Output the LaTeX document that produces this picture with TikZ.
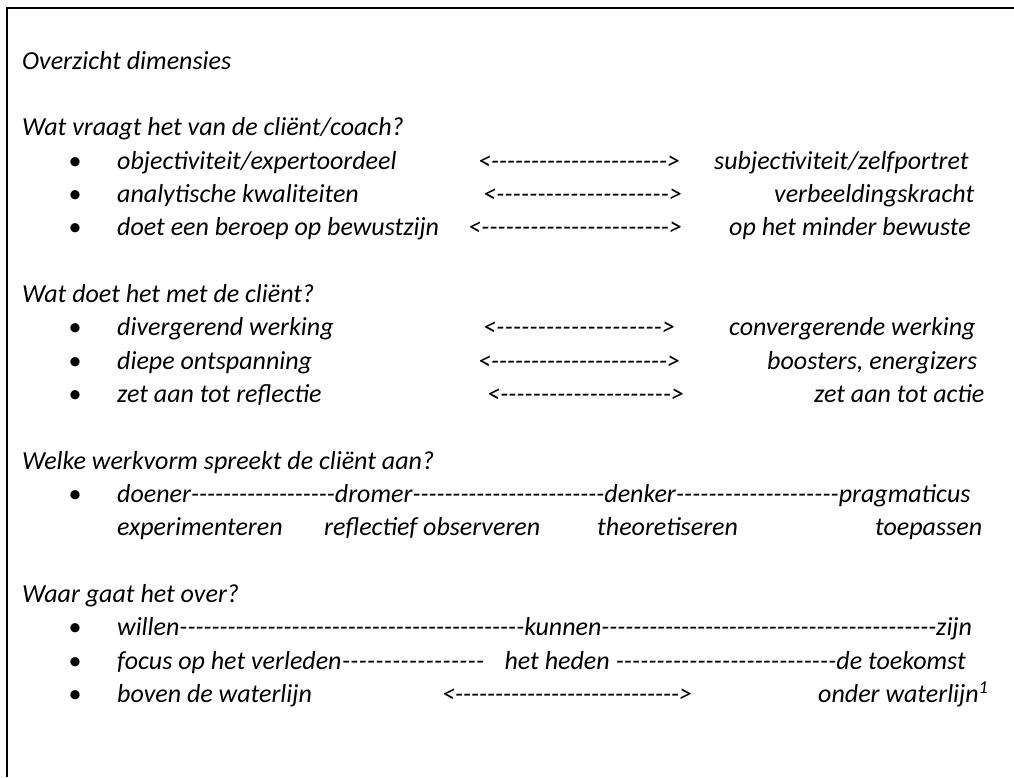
\documentclass[tikz,border=0pt]{standalone}
\usepackage{fontspec}
\setmainfont{Carlito}

% a run of hyphens of a given width, and a two-way text arrow
\newcommand{\dashrun}[1]{\hbox to #1{\xleaders\hbox{-}\hfill}}
\newcommand{\twoway}[1]{\hbox to #1{<\xleaders\hbox{-}\hfill>}}

\tikzset{
	txt/.style={anchor=base west, inner sep=0pt, font=\itshape},
	dot/.style={anchor=base, inner sep=0pt},
	frame/.style={line width=2pt}
}

\begin{document}
\begin{tikzpicture}[x=1pt, y=-1pt]
	\fontsize{26pt}{31pt}\selectfont
	\useasboundingbox (0, 0) rectangle (1014, 777);

	\draw[frame] (7, 777) -- (7, 8) -- (1014, 8); % Kader

	\node[txt] (titel) at (22, 69) {Overzicht dimensies};

	% Wat vraagt het
	\node[txt] (vraag1) at (22, 135.7) {Wat vraagt het van de cliënt/coach?};
	\node[dot] (p11) at (75, 169) {•};
	\node[txt] (l11) at (117, 169) {objectiviteit/expertoordeel};
	\node[txt] (a11) at (478, 169) {\twoway{202pt}};
	\node[txt] (r11) at (714, 169) {subjectiviteit/zelfportret};
	\node[dot] (p12) at (75, 202.3) {•};
	\node[txt] (l12) at (117, 202.3) {analytische kwaliteiten};
	\node[txt] (a12) at (483, 202.3) {\twoway{199pt}};
	\node[txt] (r12) at (774, 202.3) {verbeeldingskracht};
	\node[dot] (p13) at (75, 235.7) {•};
	\node[txt] (l13) at (117, 235.7) {doet een beroep op bewustzijn};
	\node[txt] (a13) at (468, 235.7) {\twoway{214pt}};
	\node[txt] (r13) at (729, 235.7) {op het minder bewuste};

	% Wat doet het
	\node[txt] (vraag2) at (22, 302.3) {Wat doet het met de cliënt?};
	\node[dot] (p21) at (75, 335.7) {•};
	\node[txt] (l21) at (117, 335.7) {divergerend werking};
	\node[txt] (a21) at (483, 335.7) {\twoway{192pt}};
	\node[txt] (r21) at (729, 335.7) {convergerende werking};
	\node[dot] (p22) at (75, 369) {•};
	\node[txt] (l22) at (117, 369) {diepe ontspanning};
	\node[txt] (a22) at (478, 369) {\twoway{202pt}};
	\node[txt] (r22) at (767, 369) {boosters, energizers};
	\node[dot] (p23) at (75, 402.3) {•};
	\node[txt] (l23) at (117, 402.3) {zet aan tot reflectie};
	\node[txt] (a23) at (487, 402.3) {\twoway{197pt}};
	\node[txt] (r23) at (814, 402.3) {zet aan tot actie};

	% Welke werkvorm
	\node[txt] (vraag3) at (22, 469) {Welke werkvorm spreekt de cliënt aan?};
	\node[dot] (p31) at (75, 502.3) {•};
	\node[txt] (typen) at (117, 502.3) {doener\dashrun{144pt}dromer\dashrun{192pt}denker\dashrun{163pt}pragmaticus};
	\node[txt] (s1) at (117, 535.7) {experimenteren};
	\node[txt] (s2) at (324, 535.7) {reflectief observeren};
	\node[txt] (s3) at (597, 535.7) {theoretiseren};
	\node[txt] (s4) at (875, 535.7) {toepassen};

	% Waar gaat het over
	\node[txt] (vraag4) at (22, 602.3) {Waar gaat het over?};
	\node[dot] (p41) at (75, 635.7) {•};
	\node[txt] (l41) at (117, 635.7) {willen\dashrun{345pt}kunnen\dashrun{335pt}zijn};
	\node[dot] (p42) at (75, 669) {•};
	\node[txt] (l42) at (117, 669) {focus op het verleden\dashrun{143pt}\hspace{20pt}het heden \dashrun{221pt}de toekomst};
	\node[dot] (p43) at (75, 702.3) {•};
	\node[txt] (l43) at (117, 702.3) {boven de waterlijn};
	\node[txt] (a43) at (442, 702.3) {\twoway{250pt}};
	\node[txt] (r43) at (818, 702.3) {onder waterlijn\textsuperscript{1}};
\end{tikzpicture}
\end{document}
